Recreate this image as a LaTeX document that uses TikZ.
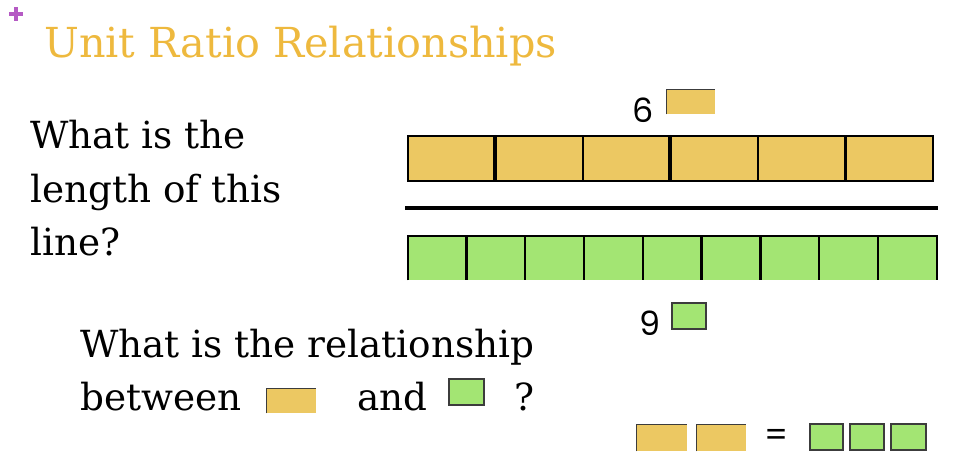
\documentclass[tikz,border=0pt]{standalone}
\usepackage{fontspec}
\newfontfamily\slabfont{DejaVu Serif}
\newfontfamily\numfont{Poppins}
\definecolor{barOrange}{RGB}{236, 200, 98}
\definecolor{barGreen}{RGB}{163, 229, 115}
\definecolor{titleGold}{RGB}{238, 185, 62}
\definecolor{plusPurple}{RGB}{181, 90, 196}
\definecolor{edgeGray}{RGB}{60, 60, 60}
\usetikzlibrary{
    positioning
}
\tikzset{
    unitDiagram/.style={
        ocell/.style={
            rectangle,
            draw,
            line width=1.7pt,
            fill = barOrange,
            minimum width=65.6pt,
            minimum height=33.75pt,
            inner sep=0pt,
        },
        gcell/.style={
            rectangle,
            fill = barGreen,
            minimum width=44.1pt,
            minimum height=33pt,
            inner sep=0pt,
        },
        oicon/.style={
            rectangle,
            fill = barOrange,
            inner sep=0pt,
        },
        gicon/.style={
            rectangle,
            draw = edgeGray,
            line width=0.9pt,
            fill = barGreen,
            inner sep=0pt,
        },
        qtext/.style={
            font = \slabfont\fontsize{28}{28}\selectfont,
            inner sep=0pt,
            anchor = base west,
        },
        numtext/.style={
            font = \numfont\fontsize{25}{25}\selectfont,
            inner sep=0pt,
            anchor = base,
        },
    }
}
\begin{document}
\begin{tikzpicture}[x=0.75pt, y=-0.75pt, unitDiagram]
    \useasboundingbox (0,0) rectangle (970,462);

    % title
    \draw[plusPurple, line width=3pt] (9,14) -- (23,14) (16,7) -- (16,21);
    \node[font=\slabfont\fontsize{31}{31}\selectfont, text=titleGold, inner sep=0pt, anchor=base west] (title) at (44,57) {Unit Ratio Relationships};

    % first question
    \node[qtext] (q1_a) at (30,148) {What is the};
    \node[qtext] (q1_b) at (30,202) {length of this};
    \node[qtext] (q1_c) at (30,255) {line?};

    % orange bar, 6 units
    \begin{scope}
        \node[ocell] (bar_o1) at (451.75,158.5) {};
        \node[ocell] (bar_o2) at (539.25,158.5) {};
        \node[ocell] (bar_o3) at (626.75,158.5) {};
        \node[ocell] (bar_o4) at (714.25,158.5) {};
        \node[ocell] (bar_o5) at (801.75,158.5) {};
        \node[ocell] (bar_o6) at (889.25,158.5) {};
    \end{scope}
    \draw[line width=2.8pt] (bar_o2.north west) -- (bar_o2.south west);
    \draw[line width=2.8pt] (bar_o4.north west) -- (bar_o4.south west);

    \node[numtext] (six) at (643,122) {6};
    \node[oicon, minimum width=36pt, minimum height=18pt] (unit_o) at (691,102) {};
    \draw[edgeGray, line width=0.9pt] (unit_o.south west) |- (unit_o.north east);

    % the line
    \coordinate (rule_l) at (405,208);
    \coordinate (rule_r) at (938,208);
    \draw[line width=2.6pt] (rule_l) -- (rule_r);

    % green bar, 9 units
    \begin{scope}
        \node[gcell] (bar_g1) at (437.39,258) {};
        \node[gcell] (bar_g2) at (496.17,258) {};
        \node[gcell] (bar_g3) at (554.94,258) {};
        \node[gcell] (bar_g4) at (613.72,258) {};
        \node[gcell] (bar_g5) at (672.50,258) {};
        \node[gcell] (bar_g6) at (731.28,258) {};
        \node[gcell] (bar_g7) at (790.06,258) {};
        \node[gcell] (bar_g8) at (848.83,258) {};
        \node[gcell] (bar_g9) at (907.61,258) {};
    \end{scope}

    \begin{scope} [every edge/.style={draw=black, line width=1.7pt}]
        \draw[line width=1.7pt] (bar_g1.south west) |- (bar_g9.north east) -- (bar_g9.south east);
        \path (bar_g2.north west) edge (bar_g2.south west);
        \path (bar_g3.north west) edge (bar_g3.south west);
        \path (bar_g4.north west) edge (bar_g4.south west);
        \path (bar_g5.north west) edge (bar_g5.south west);
        \path (bar_g6.north west) edge (bar_g6.south west);
        \path (bar_g7.north west) edge (bar_g7.south west);
        \path (bar_g8.north west) edge (bar_g8.south west);
        \path (bar_g9.north west) edge (bar_g9.south west);
    \end{scope}

    \node[numtext] (nine) at (650,335) {9};
    \node[gicon, minimum width=25.5pt, minimum height=19.5pt] (unit_g) at (689,316) {};

    % second question
    \node[qtext] (q2_a) at (80,357) {What is the relationship};
    \node[qtext] (q2_b) at (80,410) {between};
    \node[oicon, minimum width=36.75pt, minimum height=18pt] (q2_o) at (291.5,401) {};
    \draw[edgeGray, line width=0.9pt] (q2_o.south west) |- (q2_o.north east);
    \node[qtext] (q2_and) at (357,410) {and};
    \node[gicon, minimum width=26.25pt, minimum height=19.5pt] (q2_g) at (466.5,392) {};
    \node[qtext] (q2_q) at (514,410) {?};

    % 2 orange = 3 green
    \node[oicon, minimum width=37.5pt, minimum height=19.5pt] (eq_o1) at (662,438) {};
    \node[oicon, minimum width=37pt, minimum height=19.5pt] (eq_o2) at (721.5,438) {};
    \draw[edgeGray, line width=0.9pt] (eq_o1.south west) |- (eq_o1.north east);
    \draw[edgeGray, line width=0.9pt] (eq_o2.south west) |- (eq_o2.north east);
    \node[font=\numfont\fontsize{25}{25}\selectfont, inner sep=0pt] (equals) at (777,438) {=};
    \node[gicon, minimum width=24.75pt, minimum height=19.5pt] (eq_g1) at (826.5,437) {};
    \node[gicon, minimum width=25.5pt, minimum height=19.5pt] (eq_g2) at (867,437) {};
    \node[gicon, minimum width=26.25pt, minimum height=19.5pt] (eq_g3) at (908.5,437) {};
\end{tikzpicture}
\end{document}
